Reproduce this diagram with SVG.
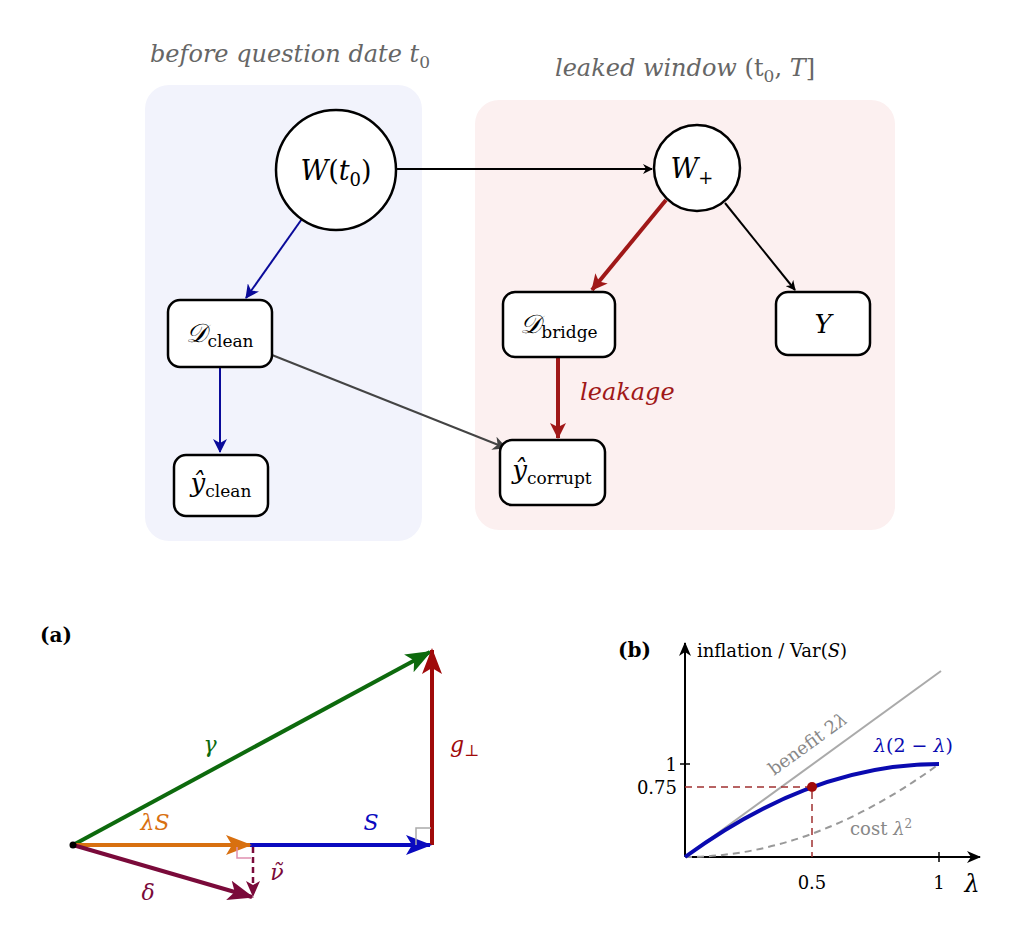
<svg xmlns="http://www.w3.org/2000/svg" width="1036" height="947" viewBox="0 0 1036 947">
<style>
.m{font-family:"DejaVu Serif","Liberation Serif",serif;font-style:italic}
.r{font-family:"DejaVu Serif","Liberation Serif",serif}
.node{fill:#fff;stroke:#000;stroke-width:2.5}
</style>
<defs>
<marker id="ak" markerWidth="10" markerHeight="10" refX="9" refY="5" orient="auto" markerUnits="userSpaceOnUse"><path d="M0,0 L10,5 L0,10 L3,5Z" fill="#000"/></marker>
<marker id="ab" markerWidth="14" markerHeight="14" refX="13" refY="7" orient="auto" markerUnits="userSpaceOnUse"><path d="M0,0 L14,7 L0,14 L4,7Z" fill="#0a0a9a"/></marker>
<marker id="ar" markerWidth="16" markerHeight="16" refX="15" refY="8" orient="auto" markerUnits="userSpaceOnUse"><path d="M0,0 L16,8 L0,16 L4,8Z" fill="#a01818"/></marker>
<marker id="ag" markerWidth="14" markerHeight="14" refX="13" refY="7" orient="auto" markerUnits="userSpaceOnUse"><path d="M0,0 L14,7 L0,14 L4,7Z" fill="#444"/></marker>
<marker id="vg" markerWidth="26" markerHeight="20" refX="24" refY="10" orient="auto" markerUnits="userSpaceOnUse"><path d="M0,0 L26,10 L0,20 L6,10Z" fill="#0d6a0d"/></marker>
<marker id="vr" markerWidth="26" markerHeight="20" refX="24" refY="10" orient="auto" markerUnits="userSpaceOnUse"><path d="M0,0 L26,10 L0,20 L6,10Z" fill="#a00a0a"/></marker>
<marker id="vo" markerWidth="26" markerHeight="20" refX="24" refY="10" orient="auto" markerUnits="userSpaceOnUse"><path d="M0,0 L26,10 L0,20 L6,10Z" fill="#d87010"/></marker>
<marker id="vb" markerWidth="26" markerHeight="20" refX="24" refY="10" orient="auto" markerUnits="userSpaceOnUse"><path d="M0,0 L26,10 L0,20 L6,10Z" fill="#0a0abf"/></marker>
<marker id="vm" markerWidth="26" markerHeight="20" refX="24" refY="10" orient="auto" markerUnits="userSpaceOnUse"><path d="M0,0 L26,10 L0,20 L6,10Z" fill="#7a0a3a"/></marker>
<marker id="vm2" markerWidth="16" markerHeight="14" refX="15" refY="7" orient="auto" markerUnits="userSpaceOnUse"><path d="M0,0 L16,7 L0,14 L4,7Z" fill="#7a0a3a"/></marker>
<marker id="ax" markerWidth="14" markerHeight="12" refX="13" refY="6" orient="auto" markerUnits="userSpaceOnUse"><path d="M0,0 L14,6 L0,12 L4,6Z" fill="#000"/></marker>
</defs>
<rect x="145" y="85" width="277" height="456" rx="24" fill="#f2f3fc"/>
<rect x="475" y="100" width="420" height="430" rx="24" fill="#fcf0f0"/>
<text x="290" y="62" class="m" font-size="24" fill="#666" text-anchor="middle">before question date t<tspan font-style="normal" font-size="17" dy="6">0</tspan></text>
<text x="685" y="76" class="m" font-size="24" fill="#666" text-anchor="middle">leaked window <tspan font-style="normal">(t</tspan><tspan font-style="normal" font-size="17" dy="6">0</tspan><tspan dy="-6" font-style="normal">, </tspan>T<tspan font-style="normal">]</tspan></text>
<g id="connectors" fill="none">
<line x1="397" y1="169" x2="652" y2="169" stroke="#000" stroke-width="2" marker-end="url(#ak)"/>
<line x1="304" y1="216" x2="246" y2="298" stroke="#0a0a9a" stroke-width="2" marker-end="url(#ab)"/>
<line x1="220" y1="367" x2="220" y2="452" stroke="#0a0a9a" stroke-width="2" marker-end="url(#ab)"/>
<line x1="272" y1="355" x2="506" y2="448" stroke="#444" stroke-width="2" marker-end="url(#ag)"/>
<line x1="666" y1="200" x2="592" y2="290" stroke="#a01818" stroke-width="4" marker-end="url(#ar)"/>
<line x1="725" y1="203" x2="795" y2="290" stroke="#000" stroke-width="2" marker-end="url(#ak)"/>
<line x1="558" y1="357" x2="558" y2="438" stroke="#a01818" stroke-width="4" marker-end="url(#ar)"/>
</g>
<text x="580" y="400" class="m" font-size="24" fill="#a01818">leakage</text>
<g id="Wt0"><circle cx="336" cy="170" r="60" class="node"/><text x="336" y="180" class="m" font-size="27" text-anchor="middle">W<tspan font-style="normal">(</tspan>t<tspan font-style="normal" font-size="18" dy="6">0</tspan><tspan font-style="normal" dy="-6">)</tspan></text></g>
<g id="Wplus"><circle cx="697" cy="168" r="43" class="node"/><text x="692" y="178" class="m" font-size="27" text-anchor="middle">W<tspan font-style="normal" font-size="18" dy="6">+</tspan></text></g>
<g id="Dclean"><rect x="168" y="300" width="104" height="67" rx="12" class="node"/><text x="220" y="342" class="m" font-size="26" text-anchor="middle">𝒟<tspan font-style="normal" font-size="17" dy="5">clean</tspan></text></g>
<g id="Dbridge"><rect x="503" y="292" width="112" height="65" rx="12" class="node"/><text x="559" y="333" class="m" font-size="26" text-anchor="middle">𝒟<tspan font-style="normal" font-size="17" dy="5">bridge</tspan></text></g>
<g id="Y"><rect x="776" y="292" width="94" height="63" rx="12" class="node"/><text x="823" y="333" class="m" font-size="26" text-anchor="middle">Y</text></g>
<g id="yclean"><rect x="174" y="455" width="94" height="61" rx="12" class="node"/><text x="221" y="492" class="m" font-size="26" text-anchor="middle">ŷ<tspan font-style="normal" font-size="17" dy="5">clean</tspan></text></g>
<g id="ycorrupt"><rect x="500" y="440" width="105" height="65" rx="12" class="node"/><text x="552" y="479" class="m" font-size="26" text-anchor="middle">ŷ<tspan font-style="normal" font-size="17" dy="5">corrupt</tspan></text></g>

<text x="40" y="642" class="r" font-weight="bold" font-size="20">(a)</text>
<line x1="73" y1="845" x2="430" y2="652" stroke="#0d6a0d" stroke-width="4" marker-end="url(#vg)"/>
<line x1="432" y1="845" x2="432" y2="650" stroke="#a00a0a" stroke-width="4" marker-end="url(#vr)"/>
<line x1="250" y1="845" x2="430" y2="845" stroke="#0a0abf" stroke-width="4" marker-end="url(#vb)"/>
<line x1="73" y1="845" x2="250" y2="845" stroke="#d87010" stroke-width="4" marker-end="url(#vo)"/>
<line x1="73" y1="845" x2="252" y2="897" stroke="#7a0a3a" stroke-width="4" marker-end="url(#vm)"/>
<line x1="253" y1="847" x2="253" y2="896" stroke="#7a0a3a" stroke-width="2.5" stroke-dasharray="6,4" marker-end="url(#vm2)"/>
<path d="M237,847 V858 H251" fill="none" stroke="#e090b0" stroke-width="1.5"/>
<path d="M416,845 V828 H431" fill="none" stroke="#aaa" stroke-width="1.5"/>
<circle cx="73" cy="845" r="3.5" fill="#000"/>
<text x="210" y="752" class="m" font-size="22" fill="#0d6a0d" text-anchor="middle">γ</text>
<text x="155" y="830" class="m" font-size="22" fill="#d87010" text-anchor="middle">λS</text>
<text x="371" y="830" class="m" font-size="22" fill="#0a0abf" text-anchor="middle">S</text>
<text x="450" y="752" class="m" font-size="22" fill="#a00a0a">g<tspan font-style="normal" font-size="16" dy="4">⊥</tspan></text>
<text x="148" y="900" class="m" font-size="22" fill="#7a0a3a" text-anchor="middle">δ</text>
<text x="277" y="880" class="m" font-size="22" fill="#7a0a3a" text-anchor="middle">ν̃</text>

<text x="618" y="657" class="r" font-weight="bold" font-size="20">(b)</text>
<line x1="685" y1="857" x2="685" y2="643" stroke="#000" stroke-width="2" marker-end="url(#ax)"/>
<line x1="685" y1="857" x2="980" y2="857" stroke="#000" stroke-width="2" marker-end="url(#ax)"/>
<line x1="685" y1="857" x2="941" y2="671" stroke="#aaa" stroke-width="2"/>
<path d="M685,857 Q812,857 939,764" fill="none" stroke="#999" stroke-width="2" stroke-dasharray="7,5"/>
<path d="M685,857 Q812,764 939,764" fill="none" stroke="#0a0ab0" stroke-width="4"/>
<path d="M685,787 H812 V857" fill="none" stroke="#a03030" stroke-width="1.5" stroke-dasharray="7,5"/>
<circle cx="812" cy="787" r="5" fill="#a00a0a"/>
<line x1="680" y1="764" x2="690" y2="764" stroke="#000" stroke-width="1.5"/>
<line x1="939" y1="852" x2="939" y2="862" stroke="#000" stroke-width="1.5"/>
<text x="677" y="771" class="r" font-size="18" text-anchor="end">1</text>
<text x="677" y="794" class="r" font-size="18" text-anchor="end">0.75</text>
<text x="812" y="889" class="r" font-size="18" text-anchor="middle">0.5</text>
<text x="939" y="889" class="r" font-size="18" text-anchor="middle">1</text>
<text x="972" y="892" class="m" font-size="24" text-anchor="middle">λ</text>
<text x="697" y="657" class="r" font-size="18">inflation / Var(<tspan font-style="italic">S</tspan>)</text>
<text x="0" y="0" class="r" font-size="18" fill="#888" transform="translate(774,776) rotate(-36)">benefit 2<tspan font-style="italic">λ</tspan></text>
<text x="874" y="752" class="m" font-size="19" fill="#0a0ab0">λ<tspan font-style="normal">(2 − </tspan>λ<tspan font-style="normal">)</tspan></text>
<text x="850" y="835" class="r" font-size="18" fill="#888">cost <tspan font-style="italic">λ</tspan><tspan font-size="12" dy="-7">2</tspan></text>
</svg>
